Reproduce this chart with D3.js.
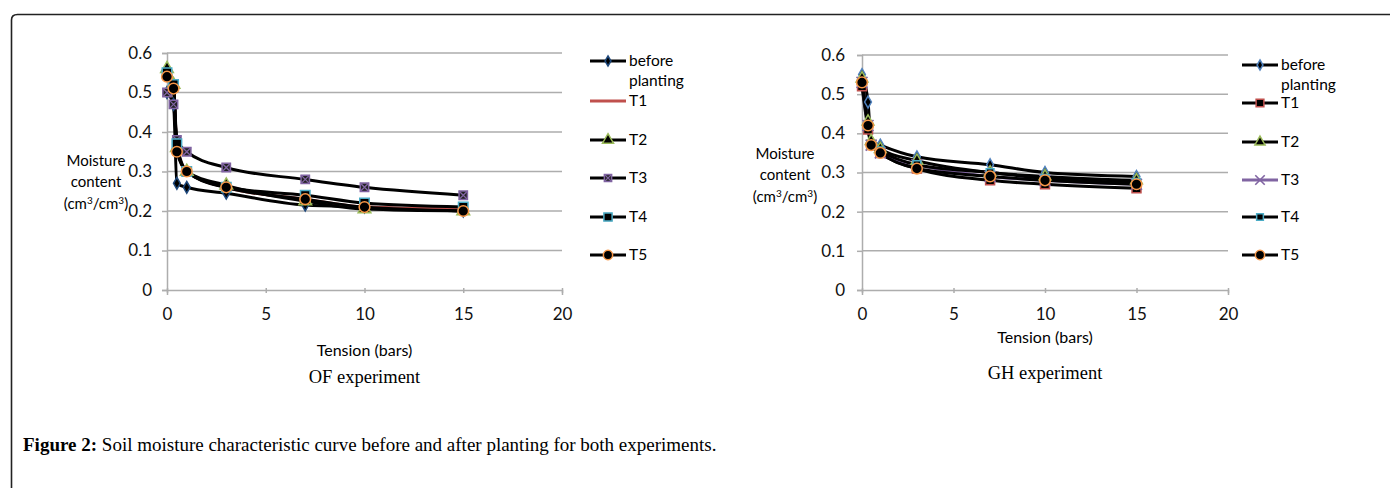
<!DOCTYPE html>
<html>
<head>
<meta charset="utf-8">
<script src="https://cdn.jsdelivr.net/npm/d3@7"></script>
<style>
  body { margin: 0; background: #fff; }
  svg { display: block; }
</style>
</head>
<body>
<div id="fig"></div>
<script>
(function () {

    // tension steps (bars), shared by every series
    const tension = [0, 0.33, 0.5, 1, 3, 7, 10, 15];
    const seriesNames = ['before planting', 'T1', 'T2', 'T3', 'T4', 'T5'];

    // OF experiment, moisture content (cm3/cm3)
    const ofBefore = [0.50, 0.47, 0.27, 0.26, 0.245, 0.215, 0.21, 0.20];
    const ofT1 = [0.55, 0.52, 0.36, 0.30, 0.26, 0.23, 0.21, 0.205];
    const ofT2 = [0.56, 0.52, 0.36, 0.30, 0.265, 0.225, 0.205, 0.20];
    const ofT3 = [0.50, 0.47, 0.38, 0.35, 0.31, 0.28, 0.26, 0.24];
    const ofT4 = [0.55, 0.52, 0.37, 0.30, 0.26, 0.24, 0.22, 0.21];
    const ofT5 = [0.54, 0.51, 0.35, 0.30, 0.26, 0.23, 0.21, 0.20];

    // GH experiment
    const ghBefore = [0.55, 0.48, 0.38, 0.37, 0.34, 0.32, 0.30, 0.29];
    const ghT1 = [0.52, 0.41, 0.37, 0.35, 0.31, 0.28, 0.27, 0.26];
    const ghT2 = [0.54, 0.43, 0.38, 0.36, 0.33, 0.30, 0.29, 0.28];
    const ghT3 = [0.53, 0.42, 0.37, 0.35, 0.32, 0.29, 0.28, 0.27];
    const ghT4 = [0.53, 0.42, 0.37, 0.355, 0.32, 0.30, 0.285, 0.275];
    const ghT5 = [0.53, 0.42, 0.37, 0.35, 0.31, 0.29, 0.28, 0.27];

    const xTicks = [0, 5, 10, 15, 20];
    const yTicks = [0, 0.1, 0.2, 0.3, 0.4, 0.5, 0.6];

    const width = 1390;
    const height = 488;

    const svg = d3.select('#fig')
        .append('svg')
        .attr('width', width)
        .attr('height', height);

    // outer frame, only top and left sides show
    svg.append('path')
        .attr('d', 'M11.5,' + height + ' V20 Q11.5,14.5 17.5,14.5 H' + width)
        .attr('fill', 'none')
        .attr('stroke', '#222')
        .attr('stroke-width', 1.6);

    const sans = "Lato, 'Open Sans', sans-serif";
    const serif = "'Liberation Serif', 'DejaVu Serif', serif";

    // marker look per series, per chart
    const ofStyle = [
        { sym: d3.symbolDiamond, size: 40, stroke: '#1f497d', fill: '#000', line: '#000' },
        { sym: null, line: '#c0504d' },
        { sym: d3.symbolTriangle, size: 70, stroke: '#9bbb59', fill: '#000', line: '#000' },
        { sym: d3.symbolSquare, size: 70, stroke: '#8064a2', fill: '#222', line: '#000', cross: true },
        { sym: d3.symbolSquare, size: 90, stroke: '#4bacc6', fill: '#000', line: '#000' },
        { sym: d3.symbolCircle, size: 90, stroke: '#f79646', fill: '#000', line: '#000' }
    ];
    const ghStyle = [
        { sym: d3.symbolDiamond, size: 40, stroke: '#4f81bd', fill: '#000', line: '#000' },
        { sym: d3.symbolSquare, size: 80, stroke: '#c0504d', fill: '#000', line: '#000' },
        { sym: d3.symbolTriangle, size: 60, stroke: '#9bbb59', fill: '#000', line: '#000' },
        { sym: d3.symbolX, size: 80, stroke: '#8064a2', fill: 'none', line: '#8064a2' },
        { sym: d3.symbolSquare, size: 60, stroke: '#4bacc6', fill: '#000', line: '#000' },
        { sym: d3.symbolCircle, size: 90, stroke: '#f79646', fill: '#000', line: '#000' }
    ];

    function drawMarker(g, st, x, y) {
        if (!st.sym) return;
        const isX = st.sym === d3.symbolX;
        g.append('path')
            .attr('d', d3.symbol().type(st.sym).size(st.size)())
            .attr('transform', 'translate(' + x + ',' + y + ')')
            .attr('fill', st.fill)
            .attr('stroke', st.stroke)
            .attr('stroke-width', isX ? 1.6 : 1.5);
        if (st.cross) {
            g.append('path')
                .attr('d', d3.symbol().type(d3.symbolX).size(st.size * 0.7)())
                .attr('transform', 'translate(' + x + ',' + y + ')')
                .attr('fill', 'none')
                .attr('stroke', st.stroke)
                .attr('stroke-width', 1.3);
        }
    }

    function drawChart(opt) {
        const x = d3.scaleLinear().domain([0, 20]).range([opt.x0, opt.x1]);
        const y = d3.scaleLinear().domain([0, 0.6]).range([opt.y0, opt.y1]);
        const g = svg.append('g');

        // gridlines
        g.selectAll('.grid')
            .data(yTicks.slice(1))
            .join('line')
            .attr('x1', opt.x0).attr('x2', opt.x1)
            .attr('y1', d => y(d)).attr('y2', d => y(d))
            .attr('stroke', '#adadad')
            .attr('stroke-width', 1.5);

        // axes
        const xAxis = g.append('g')
            .attr('transform', 'translate(0,' + opt.y0 + ')')
            .call(d3.axisBottom(x).tickValues(xTicks).tickSize(5).tickPadding(13));
        const yAxis = g.append('g')
            .attr('transform', 'translate(' + opt.x0 + ',0)')
            .call(d3.axisLeft(y).tickValues(yTicks).tickSize(5).tickPadding(opt.yPad)
                .tickFormat(d => d === 0 ? '0' : d3.format('.1f')(d)));
        [xAxis, yAxis].forEach(a => {
            a.select('.domain').attr('stroke', '#adadad').attr('stroke-width', 1.5);
            a.selectAll('.tick line').attr('stroke', '#adadad').attr('stroke-width', 1.5);
            a.selectAll('.tick text')
                .attr('fill', '#111')
                .style('font-family', sans)
                .style('font-size', '17px');
        });
        xAxis.selectAll('.tick line').attr('transform', 'translate(0,-2)');

        // axis titles
        g.append('text')
            .attr('x', x(10)).attr('y', opt.xTitleY)
            .attr('text-anchor', 'middle')
            .style('font-family', sans).style('font-size', '16px')
            .text('Tension (bars)');
        const yt = g.append('text')
            .attr('text-anchor', 'middle')
            .style('font-family', sans).style('font-size', '15px');
        yt.append('tspan').attr('x', opt.yTitleX).attr('y', opt.yTitleY).text('Moisture');
        yt.append('tspan').attr('x', opt.yTitleX).attr('dy', 21).text('content');
        const t3 = yt.append('tspan').attr('x', opt.yTitleX).attr('dy', 22).text('(cm');
        t3.append('tspan').attr('dy', -5).style('font-size', '10px').text('3');
        t3.append('tspan').attr('dy', 5).text('/cm');
        t3.append('tspan').attr('dy', -5).style('font-size', '10px').text('3');
        t3.append('tspan').attr('dy', 5).text(')');

        // sub caption
        g.append('text')
            .attr('x', x(10)).attr('y', opt.capY)
            .attr('text-anchor', 'middle')
            .style('font-family', serif).style('font-size', '18.5px')
            .text(opt.caption);

        // series lines
        const line = d3.line()
            .x((d, i) => x(tension[i]))
            .y(d => y(d))
            .curve(d3.curveMonotoneX);

        opt.series.forEach((vals, k) => {
            const st = opt.style[k];
            g.append('path')
                .datum(vals)
                .attr('d', line)
                .attr('fill', 'none')
                .attr('stroke', st.line)
                .attr('stroke-width', 3)
                .attr('stroke-linejoin', 'round');
        });
        opt.series.forEach((vals, k) => {
            const st = opt.style[k];
            vals.forEach((v, i) => drawMarker(g, st, x(tension[i]), y(v)));
        });

        // legend
        const lg = g.append('g');
        seriesNames.forEach((name, k) => {
            const st = opt.style[k];
            const ly = opt.legY[k];
            lg.append('line')
                .attr('x1', opt.legX).attr('x2', opt.legX + 36)
                .attr('y1', ly).attr('y2', ly)
                .attr('stroke', st.line)
                .attr('stroke-width', 3);
            drawMarker(lg, Object.assign({}, st, { size: st.size ? st.size * 0.75 : 0 }), opt.legX + 18, ly);
            if (name === 'before planting') {
                const tt = lg.append('text')
                    .style('font-family', sans).style('font-size', '15.5px');
                tt.append('tspan').attr('x', opt.legX + 39).attr('y', ly + 5).text('before');
                tt.append('tspan').attr('x', opt.legX + 39).attr('dy', 20).text('planting');
            } else {
                lg.append('text')
                    .attr('x', opt.legX + 39).attr('y', ly + 5)
                    .style('font-family', sans).style('font-size', '15.5px')
                    .text(name);
            }
        });
    }

    drawChart({
        x0: 167, x1: 562, y0: 290, y1: 53, yPad: 10,
        xTitleY: 356, capY: 383, caption: 'OF experiment',
        yTitleX: 96, yTitleY: 166,
        legX: 590, legY: [61, 101, 140, 178, 217, 255],
        series: [ofBefore, ofT1, ofT2, ofT3, ofT4, ofT5],
        style: ofStyle
    });

    drawChart({
        x0: 862, x1: 1228, y0: 290, y1: 55, yPad: 12,
        xTitleY: 343, capY: 379, caption: 'GH experiment',
        yTitleX: 785, yTitleY: 159,
        legX: 1242, legY: [65, 103, 142, 180, 217, 255],
        series: [ghBefore, ghT1, ghT2, ghT3, ghT4, ghT5],
        style: ghStyle
    });

    // figure caption
    const cap = svg.append('text')
        .attr('x', 23).attr('y', 451)
        .style('font-family', serif).style('font-size', '19px');
    cap.append('tspan').style('font-weight', 'bold').text('Figure 2:');
    cap.append('tspan').text(' Soil moisture characteristic curve before and after planting for both experiments.');

})();
</script>
</body>
</html>
